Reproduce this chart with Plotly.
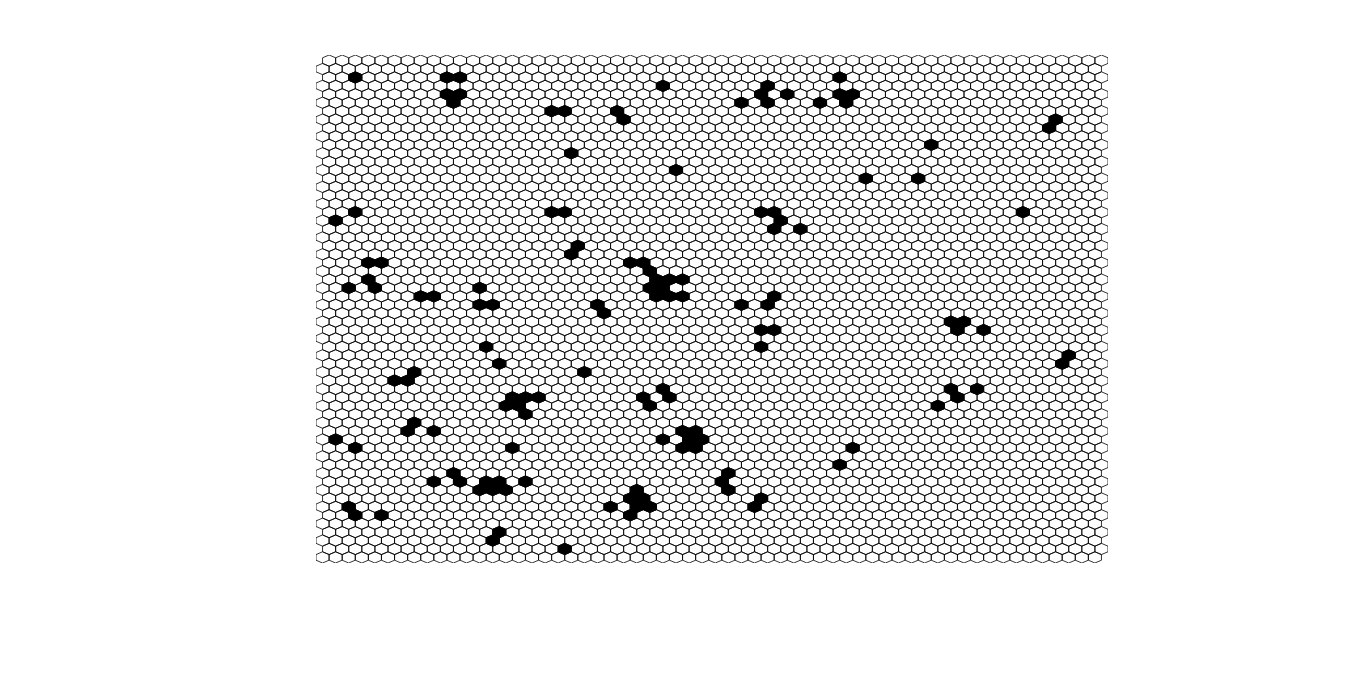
import plotly.graph_objects as go

# Grid size (rows counted from the top, columns from the left)
n_rows = 60
n_cols = 60

# Filled (black) cells: row index, column index
filled_rows = [2, 2, 2, 4, 4, 5, 3, 6, 6, 6, 7, 11, 13, 18, 18, 22, 23,
               24, 24, 25, 26, 26, 26, 27, 27, 28, 28, 28, 29, 30,
               2, 3, 4, 4, 5, 5, 5, 4, 4, 5, 14, 18, 18, 19, 20, 20,
               28, 29, 29, 7, 8, 10, 14, 18,
               18, 19, 24, 24, 26, 27, 27, 28, 28, 27, 29, 29,
               32, 32, 34, 31, 31, 32, 32, 34, 36, 35, 36, 37, 37, 38, 38,
               39, 39, 40, 41, 39, 40, 40, 41,
               40, 40, 40, 41, 41, 42, 43, 44, 44, 45, 46, 46, 45,
               44, 44, 45, 45, 46, 46, 46, 48, 49, 50, 50,
               50, 50, 51, 51, 51, 50, 49, 50, 51,
               51, 52, 52, 53, 53, 54, 53, 52, 53, 53, 54, 54, 56, 57, 58]
filled_cols = [2, 9, 10, 9, 10, 10, 26, 17, 18, 22, 23, 19, 27, 17, 18, 19, 19,
               23, 24, 25, 25, 26, 27, 25, 26, 25, 26, 27, 21, 21,
               39, 34, 33, 35, 32, 34, 38, 39, 40, 40, 41, 33, 34, 35, 34, 36,
               34, 32, 34, 56, 55, 46, 45, 53,
               2, 1, 3, 4, 3, 2, 4, 7, 8, 12, 12, 13,
               33, 34, 33, 48, 49, 48, 50, 12, 13, 57, 56, 20, 7, 5, 6,
               48, 50, 48, 47, 26, 26, 24, 25,
               14, 15, 16, 14, 15, 15, 7, 6, 8, 1, 2, 14, 26,
               27, 28, 28, 29, 27, 28, 40, 39, 10, 10, 8,
               12, 13, 12, 13, 14, 15, 31, 30, 31,
               24, 23, 24, 25, 24, 23, 22, 33, 33, 2, 2, 4, 13, 13, 18]

# Pointy-top hexagon outline (unit width, unit height)
hex_dx = [0.0, 0.5, 0.5, 0.0, -0.5, -0.5, 0.0]
hex_dy = [-0.5, -0.25, 0.25, 0.5, 0.25, -0.25, -0.5]
row_step = 0.75


def center(r, c):
    shift = 0.5 if r % 2 == 0 else 0.0
    return c + shift, r * row_step


def outline(cells):
    xs, ys = [], []
    for r, c in cells:
        cx, cy = center(r, c)
        xs.extend([cx + d for d in hex_dx] + [None])
        ys.extend([cy + d for d in hex_dy] + [None])
    return xs, ys


all_cells = [(r, c) for r in range(n_rows) for c in range(n_cols)]
gx, gy = outline(all_cells)
fx, fy = outline(list(zip(filled_rows, filled_cols)))

fig = go.Figure()
fig.add_trace(go.Scatter(x=gx, y=gy, mode="lines",
                         line=dict(color="black", width=0.8),
                         hoverinfo="skip", showlegend=False))
fig.add_trace(go.Scatter(x=fx, y=fy, mode="lines", fill="toself",
                         fillcolor="black",
                         line=dict(color="black", width=0.8),
                         hoverinfo="skip", showlegend=False))

x_min, x_max = -0.5, n_cols
y_min, y_max = -0.5, (n_rows - 1) * row_step + 0.5

fig.update_layout(
    width=1366, height=690,
    margin=dict(l=316, r=258, t=55, b=127),
    paper_bgcolor="white", plot_bgcolor="white",
    xaxis=dict(range=[x_min, x_max], visible=False, showgrid=False, zeroline=False),
    yaxis=dict(range=[y_max, y_min], visible=False, showgrid=False, zeroline=False),
)

fig.write_html("out.html")
